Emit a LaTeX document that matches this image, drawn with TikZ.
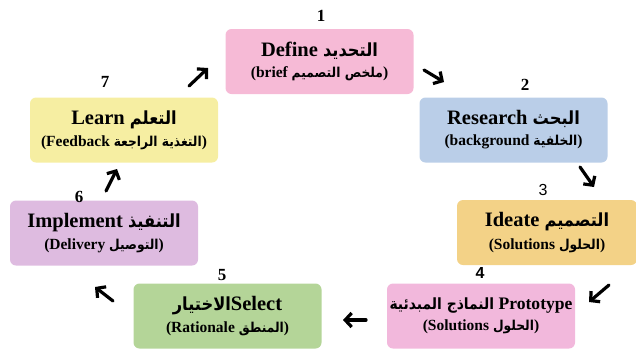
\documentclass[tikz,border=0pt]{standalone}
\usepackage{fontspec}
\usepackage{graphicx}
\setmainfont{Liberation Serif}
\newfontfamily\arabicfont[Script=Arabic,Scale=0.88,FakeStretch=0.9]{DejaVu Sans}
\newfontfamily\numsans{Liberation Sans}
\TeXXeTstate=1
\usetikzlibrary{arrows.meta}

\definecolor{cDefine}{RGB}{246,186,214}
\definecolor{cResearch}{RGB}{186,206,232}
\definecolor{cIdeate}{RGB}{243,210,135}
\definecolor{cProto}{RGB}{242,184,220}
\definecolor{cSelect}{RGB}{180,213,152}
\definecolor{cImpl}{RGB}{222,187,224}
\definecolor{cLearn}{RGB}{246,238,162}

% Arabic word set right-to-left
\newcommand{\ar}[1]{{\arabicfont\bfseries\beginR #1\endR}}

\tikzset{
  stagebox/.style={draw=none, rounded corners=6pt, minimum width=188, minimum height=65,
    align=center, inner sep=1pt},
  numlabel/.style={font=\fontsize{17}{19}\selectfont\bfseries, inner sep=0pt},
  flowarrow/.style={line width=3.2pt, line cap=round,
    -{Straight Barb[length=6.5pt,width=14pt,line width=3.2pt]}}
}

\newcommand{\lineone}[1]{{\fontsize{20.5}{22}\selectfont\bfseries #1}}
\newcommand{\linetwo}[1]{{\fontsize{15.5}{17}\selectfont\bfseries #1}}

\begin{document}
\begin{tikzpicture}[x=1pt,y=-1pt]
\useasboundingbox (0,0) rectangle (636,349);

% stage boxes
\node[stagebox, fill=cDefine] (define) at (319.5,61.5)
  {\lineone{Define \ar{التحديد}}\\[6pt]\linetwo{(brief \ar{ملخص التصميم})}};
\node[stagebox, fill=cResearch] (research) at (513.5,130)
  {\lineone{Research \ar{البحث}}\\[6pt]\linetwo{(background \ar{الخلفية})}};
\node[stagebox, fill=cIdeate, minimum width=180] (ideate) at (547,232.5)
  {\lineone{Ideate \ar{التصميم}}\\[6pt]\linetwo{(Solutions \ar{الحلول})}};
\node[stagebox, fill=cProto] (proto) at (481,316)
  {\resizebox{183pt}{!}{\lineone{\ar{النماذج المبدئية} Prototype}}\\[6pt]\linetwo{(Solutions \ar{الحلول})}};
\node[stagebox, fill=cSelect] (select) at (227.5,316)
  {\lineone{\ar{الاختيار}Select}\\[6pt]\linetwo{(Rationale \ar{المنطق})}};
\node[stagebox, fill=cImpl] (implement) at (104,233)
  {\lineone{Implement \ar{التنفيذ}}\\[6pt]\linetwo{(Delivery \ar{التوصيل})}};
\node[stagebox, fill=cLearn] (learn) at (124,130)
  {\lineone{Learn \ar{التعلم}}\\[6pt]\linetwo{(Feedback \ar{التغذية الراجعة})}};

% step numbers
\node[numlabel] (n1) at (321,16) {1};
\node[numlabel] (n2) at (525,85) {2};
\node[numlabel, font=\fontsize{16}{18}\selectfont\numsans] (n3) at (543,190) {3};
\node[numlabel, font=\fontsize{16}{18}\selectfont\numsans\bfseries] (n4) at (480,273) {4};
\node[numlabel] (n5) at (222,275) {5};
\node[numlabel] (n6) at (79,197) {6};
\node[numlabel] (n7) at (105,82) {7};

% arrow end points between stages
\coordinate (a1s) at (189,86);  \coordinate (a1e) at (208,68);
\coordinate (a2s) at (424,70);  \coordinate (a2e) at (444,82);
\coordinate (a3s) at (580,167); \coordinate (a3e) at (594,187);
\coordinate (a4s) at (609,285); \coordinate (a4e) at (589,302);
\coordinate (a5s) at (366,320); \coordinate (a5e) at (343,320);
\coordinate (a6s) at (113,301); \coordinate (a6e) at (95,287);
\coordinate (a7s) at (106,191); \coordinate (a7e) at (117,169);

\draw[flowarrow] (a1s) -- (a1e);
\draw[flowarrow] (a2s) -- (a2e);
\draw[flowarrow] (a3s) -- (a3e);
\draw[flowarrow] (a4s) -- (a4e);
\draw[flowarrow] (a5s) -- (a5e);
\draw[flowarrow] (a6s) -- (a6e);
\draw[flowarrow] (a7s) -- (a7e);
\end{tikzpicture}
\end{document}
